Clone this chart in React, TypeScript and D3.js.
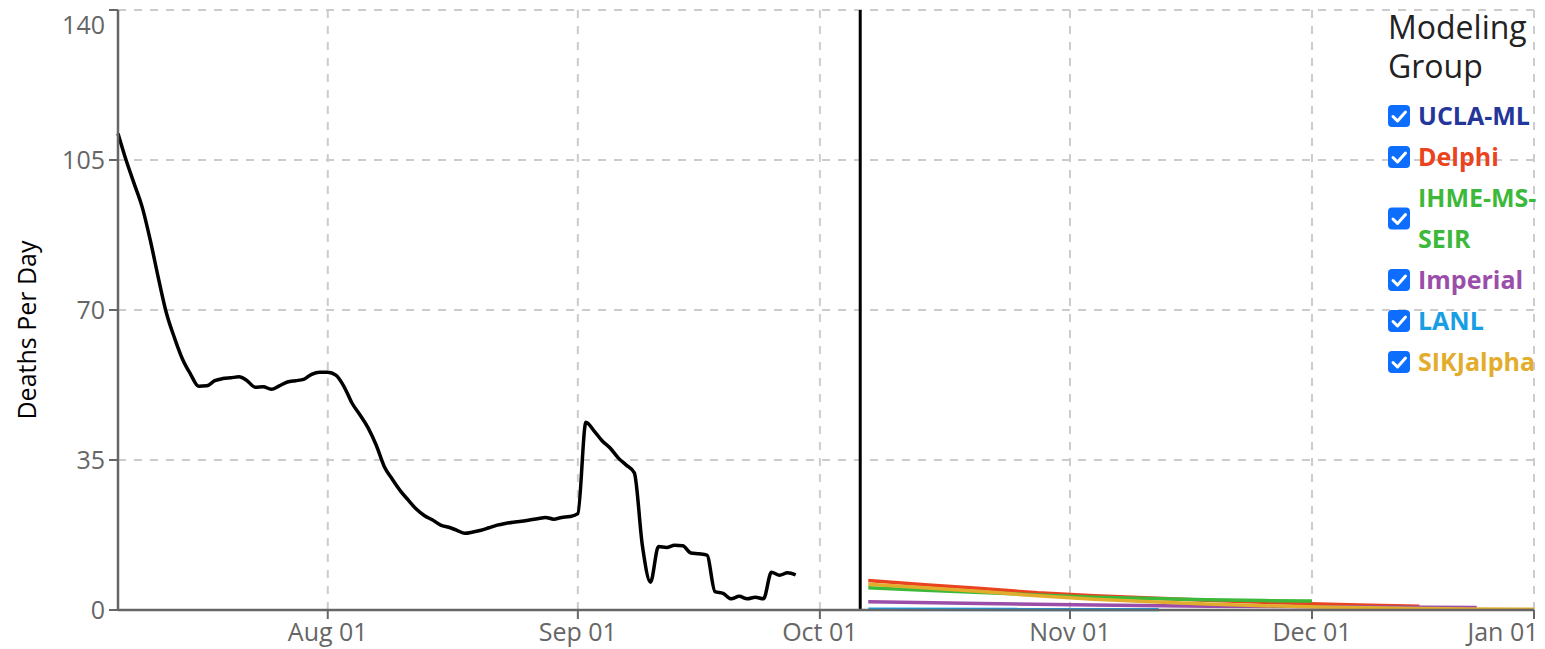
import { useMemo } from 'react';
import * as d3 from 'd3';

const W = 1545;
const H = 649;
const margin = { top: 10, right: 11, bottom: 39, left: 118 };

// observed deaths per day, one value per day starting at observedStart
const observedStart = '2020-07-06';
const observedDeaths = [
    111.2, 105, 99.5, 94, 86.3, 77.5, 69.3, 63.5, 58.5, 55,
    52.2, 52.3, 53.5, 54, 54.2, 54.4, 53.5, 52, 52.1, 51.5,
    52.3, 53.2, 53.5, 53.8, 55, 55.5, 55.5, 54.8, 52.2, 48.3,
    45.5, 42.5, 38.5, 33.5, 30.5, 27.8, 25.6, 23.5, 22, 21,
    19.8, 19.3, 18.6, 17.9, 18.2, 18.6, 19.2, 19.8, 20.2, 20.5,
    20.7, 21, 21.3, 21.6, 21.2, 21.6, 21.8, 22.5, 43.8, 41.8,
    39.5, 37.8, 35.5, 33.8, 32, 15, 6.5, 14.8, 14.6, 15.1,
    15, 13.3, 13.1, 12.8, 4.3, 3.9, 2.6, 3.2, 2.6, 3,
    2.6, 8.8, 8.1, 8.7, 8.2
];

const todayDate = '2020-10-06';

const groups = ['UCLA-ML', 'Delphi', 'IHME-MS-SEIR', 'Imperial', 'LANL', 'SIKJalpha'];
const groupColors = ['#24369a', '#ea4320', '#3cb93a', '#9b4ea9', '#1a9ee3', '#e2ad2c'];

const uclaDates: string[] = [];
const uclaValues: number[] = [];
const delphiDates = ['2020-10-07', '2020-10-14', '2020-10-21', '2020-10-28', '2020-11-04', '2020-11-11', '2020-11-18', '2020-11-25', '2020-12-02', '2020-12-09', '2020-12-16'];
const delphiValues = [6.9, 5.9, 5.0, 4.0, 3.3, 2.8, 2.3, 1.8, 1.4, 1.1, 0.9];
const ihmeDates = ['2020-10-07', '2020-10-14', '2020-10-21', '2020-10-28', '2020-11-04', '2020-11-11', '2020-11-18', '2020-11-25', '2020-12-01'];
const ihmeValues = [5.2, 4.6, 4.1, 3.5, 3.0, 2.7, 2.4, 2.2, 2.1];
const imperialDates = ['2020-10-07', '2020-10-21', '2020-11-04', '2020-11-18', '2020-12-02', '2020-12-24'];
const imperialValues = [1.9, 1.5, 1.15, 0.9, 0.75, 0.6];
const lanlDates = ['2020-10-07', '2020-11-12'];
const lanlValues = [0.15, 0.1];
const sikjDates = ['2020-10-07', '2020-10-14', '2020-10-21', '2020-10-28', '2020-11-04', '2020-11-11', '2020-11-18', '2020-11-25', '2020-12-02', '2020-12-09', '2020-12-16', '2020-12-23', '2021-01-01'];
const sikjValues = [6.0, 5.2, 4.3, 3.3, 2.5, 1.9, 1.4, 1.0, 0.7, 0.5, 0.35, 0.25, 0.15];

const xTickDates = ['2020-08-01', '2020-09-01', '2020-10-01', '2020-11-01', '2020-12-01', '2021-01-01'];
const yTicks = [0, 35, 70, 105, 140];

const FONT = '"Segoe UI", "Open Sans", sans-serif';
const parse = d3.timeParse('%Y-%m-%d');
const fmt = d3.timeFormat('%b %d');

type Pt = { date: Date; value: number };

function wrapLabel(name: string): string[] {
    // long names break after the last hyphen
    if (name.length <= 10) return [name];
    const i = name.lastIndexOf('-');
    return i > 0 ? [name.slice(0, i + 1), name.slice(i + 1)] : [name];
}

export default function App() {
    const x0 = margin.left;
    const x1 = W - margin.right;
    const y0 = H - margin.bottom;
    const y1 = margin.top;

    const { xScale, yScale, observed, forecasts } = useMemo(() => {
        const start = parse(observedStart) as Date;
        const observed: Pt[] = observedDeaths.map((v, i) => ({ date: d3.timeDay.offset(start, i), value: v }));

        const dateLists = [uclaDates, delphiDates, ihmeDates, imperialDates, lanlDates, sikjDates];
        const valueLists = [uclaValues, delphiValues, ihmeValues, imperialValues, lanlValues, sikjValues];
        const forecasts: Pt[][] = dateLists.map((ds, g) => ds.map((d, i) => ({ date: parse(d) as Date, value: valueLists[g][i] })));

        // the axis is compressed after Dec 01 (last segment is shorter)
        const xScale = d3.scaleTime()
            .domain([start, parse('2020-12-01') as Date, parse('2021-01-01') as Date])
            .range([x0, 1312, x1]);

        const yScale = d3.scaleLinear().domain([0, 140]).range([y0, y1]);
        return { xScale, yScale, observed, forecasts };
    }, []);

    const obsLine = d3.line<Pt>()
        .x((d) => xScale(d.date))
        .y((d) => yScale(d.value))
        .curve(d3.curveMonotoneX);

    const fcLine = d3.line<Pt>()
        .x((d) => xScale(d.date))
        .y((d) => yScale(d.value));

    const xTicks = xTickDates.map((d) => parse(d) as Date);
    const todayX = xScale(parse(todayDate) as Date);

    // legend layout
    const legendX = 1388;
    const lineH = 41;
    let cursor = 116;
    const legendItems = groups.map((g, i) => {
        const lines = wrapLabel(g);
        const first = cursor;
        cursor += lines.length * lineH;
        return { name: g, color: groupColors[i], lines, first, mid: first + (lines.length - 1) * lineH / 2 };
    });

    return (
        <svg width={W} height={H} style={{ position: 'absolute', left: 0, top: 0, fontFamily: FONT }}>
            {/* grid */}
            <g stroke="#cccccc" strokeWidth={2} strokeDasharray="8 8">
                {yTicks.filter((t) => t > 0).map((t) => (
                    <line key={t} x1={x0} x2={x1} y1={yScale(t)} y2={yScale(t)} />
                ))}
                {xTicks.map((t) => (
                    <line key={+t} x1={xScale(t)} x2={xScale(t)} y1={y1} y2={y0} />
                ))}
            </g>

            {/* observed */}
            <path d={obsLine(observed) || ''} fill="none" stroke="#000" strokeWidth={3.5} strokeLinejoin="round" />

            {/* forecasts */}
            {forecasts.map((f, i) => (
                <path key={groups[i]} d={fcLine(f) || ''} fill="none" stroke={groupColors[i]} strokeWidth={3.5} />
            ))}

            {/* today marker */}
            <line x1={todayX} x2={todayX} y1={y1} y2={y0} stroke="#000" strokeWidth={3} />

            {/* y axis */}
            <g>
                <line x1={x0} x2={x0} y1={y1} y2={y0} stroke="#666" strokeWidth={2.5} />
                {yTicks.map((t) => (
                    <g key={t}>
                        <line x1={x0 - 9} x2={x0} y1={yScale(t)} y2={yScale(t)} stroke="#666" strokeWidth={2} />
                        <text x={x0 - 13} y={Math.max(yScale(t), 25)} dy="0.35em" textAnchor="end" fill="#666" fontSize={25}>{t}</text>
                    </g>
                ))}
                <text transform={`translate(36, ${(y0 + y1) / 2 + 20}) rotate(-90)`} textAnchor="middle" fill="#000" fontSize={25}>Deaths Per Day</text>
            </g>

            {/* x axis */}
            <g>
                <line x1={x0} x2={x1} y1={y0} y2={y0} stroke="#666" strokeWidth={2.5} />
                {xTicks.map((t) => (
                    <g key={+t}>
                        <line x1={xScale(t)} x2={xScale(t)} y1={y0} y2={y0 + 9} stroke="#666" strokeWidth={2} />
                        <text x={Math.min(xScale(t), W - 42)} y={y0 + 31} textAnchor="middle" fill="#666" fontSize={25}>{fmt(t)}</text>
                    </g>
                ))}
            </g>

            {/* legend */}
            <g>
                <text x={legendX} y={39} fill="#222" fontSize={32}>Modeling</text>
                <text x={legendX} y={78} fill="#222" fontSize={32}>Group</text>
                {legendItems.map((it) => (
                    <g key={it.name}>
                        <rect x={legendX} y={it.mid - 11} width={22} height={22} rx={4} fill="#0d6efd" />
                        <path d={`M${legendX + 5},${it.mid + 0.5} l4.5,4.5 l8,-9`} fill="none" stroke="#fff" strokeWidth={3} strokeLinecap="round" strokeLinejoin="round" />
                        {it.lines.map((ln, j) => (
                            <text key={j} x={legendX + 30} y={it.first + j * lineH} dy="0.35em" fill={it.color} fontSize={25} fontWeight="bold">{ln}</text>
                        ))}
                    </g>
                ))}
            </g>
        </svg>
    );
}
